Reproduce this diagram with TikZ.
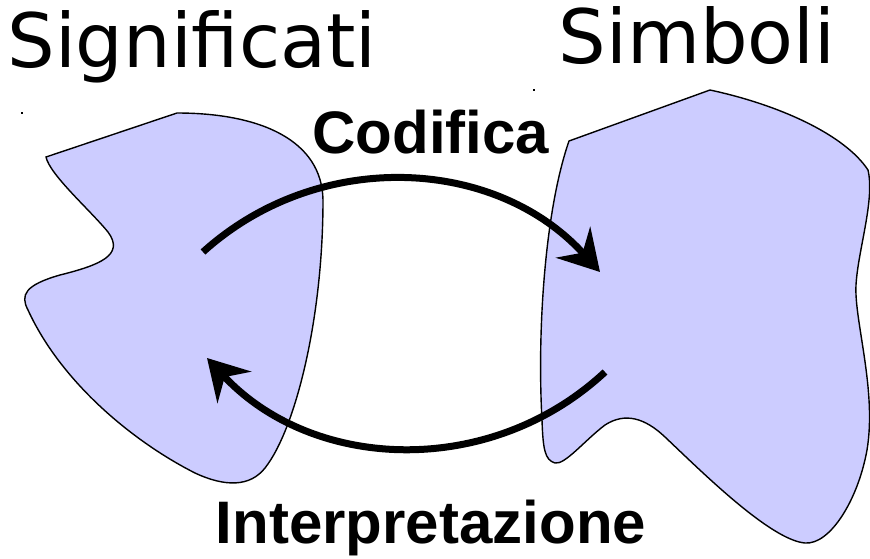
\documentclass[tikz,border=0pt]{standalone}
\usepackage{fontspec}
\setmainfont{DejaVu Sans}
\newfontfamily\lblfont{Liberation Sans}
\usepackage{xcolor}
\usepackage{tikz}
\usetikzlibrary{arrows.meta}
\definecolor{blobc}{HTML}{CCCCFF}
\tikzset{
  blob/.style={draw=black,line width=1.4pt,fill=blobc},
  flow/.style={-{Stealth[length=40pt,width=46pt,inset=14pt]},line width=7pt,black},
  title/.style={font=\fontsize{75}{80}\selectfont,anchor=base,inner sep=0pt},
  lbl/.style={font=\lblfont\bfseries\fontsize{60}{64}\selectfont,anchor=base,inner sep=0pt}
}
\begin{document}
\begin{tikzpicture}[x=1pt,y=-1pt]
\useasboundingbox (0,0) rectangle (870,558);
% meanings
\draw[blob] (46,157) -- (177,113) .. controls (260,113) and (322,140) .. (323,200)
  .. controls (323,320) and (295,430) .. (265,468) .. controls (250,487) and (225,487) .. (195,473)
  .. controls (130,440) and (60,380) .. (28,310) .. controls (20,295) and (25,285) .. (60,275)
  .. controls (100,265) and (125,255) .. (108,232) .. controls (90,210) and (50,175) .. (46,157) -- cycle;
% symbols
\draw[blob] (569,141) -- (710,90) .. controls (780,105) and (845,135) .. (868,170)
  .. controls (875,200) and (858,250) .. (856,285) .. controls (854,320) and (877,390) .. (867,450)
  .. controls (858,500) and (830,545) .. (805,543) .. controls (770,540) and (700,470) .. (665,437)
  .. controls (645,418) and (625,412) .. (605,425) .. controls (585,440) and (565,465) .. (555,463)
  .. controls (545,460) and (543,450) .. (542,420) .. controls (537,330) and (545,210) .. (569,141) -- cycle;
\fill (21,112) rectangle (23,114);
\fill (533,89) rectangle (535,91);
\node[title] (sig) at (192,67) {Significati};
\node[title] (sim) at (697,63) {Simboli};
\node[lbl] (cod) at (431,153) {Codifica};
\node[lbl] (int) at (431,543) {Interpretazione};
\coordinate (codA) at (203,252);
\coordinate (codB) at (600,272);
\coordinate (intA) at (605,372);
\coordinate (intB) at (207,358);
\draw[flow] (codA) to[bend left=45] (codB);
\draw[flow] (intA) to[bend left=45] (intB);
\end{tikzpicture}
\end{document}
